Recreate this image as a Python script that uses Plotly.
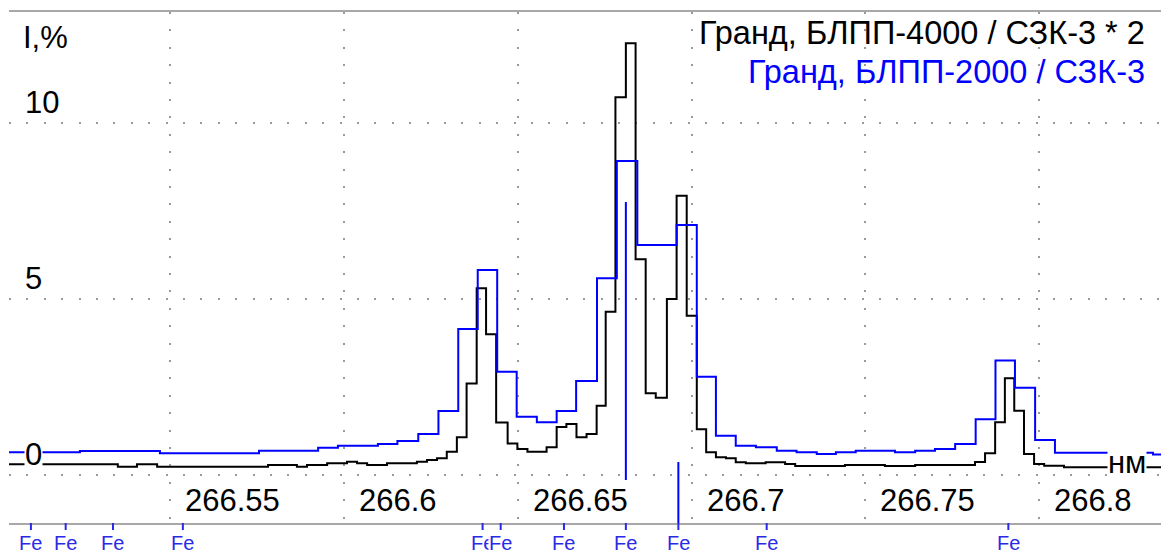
import plotly.graph_objects as go

# ---------------- data ----------------
# Black series: "Гранд, БЛПП-4000 / СЗК-3 * 2" (bin left edges in nm, last entry = right end)
black_edges = [266.5037, 266.5350, 266.5405, 266.5463, 266.5782, 266.5865, 266.5894, 266.5952,
               266.6009, 266.6038, 266.6067, 266.6124, 266.6210, 266.6239, 266.6268, 266.6296,
               266.6325, 266.6353, 266.6382, 266.6409, 266.6438, 266.6471, 266.6499, 266.6528,
               266.6583, 266.6612, 266.6640, 266.6669, 266.6698, 266.6727, 266.6753, 266.6781,
               266.6811, 266.6839, 266.6868, 266.6897, 266.6929, 266.6957, 266.6986, 266.7015,
               266.7042, 266.7070, 266.7099, 266.7127, 266.7156, 266.7213, 266.7269, 266.7298,
               266.7441, 266.7556, 266.7643, 266.7815, 266.7844, 266.7873, 266.7901, 266.7928,
               266.7956, 266.7985, 266.8014, 266.8071, 266.8350]
black_vals = [0.304, 0.236, 0.304, 0.236, 0.284, 0.236, 0.284, 0.332,
              0.378, 0.332, 0.284, 0.332, 0.378, 0.426, 0.474, 0.662,
              1.071, 2.599, 5.304, 3.997, 1.491, 0.895, 0.739, 0.662,
              0.787, 1.364, 1.449, 1.071, 1.165, 1.969, 4.639, 10.730,
              12.264, 6.128, 2.321, 2.196, 5.000, 7.935, 4.526, 1.298,
              0.645, 0.503, 0.474, 0.361, 0.332, 0.361, 0.313, 0.256,
              0.284, 0.256, 0.284, 0.369, 0.616, 1.497, 2.747, 1.827,
              0.597, 0.313, 0.264, 0.219]

# Blue series: "Гранд, БЛПП-2000 / СЗК-3"
blue_edges = [266.5037, 266.5241, 266.5471, 266.5756, 266.5926, 266.5983, 266.6098, 266.6154,
              266.6214, 266.6272, 266.6329, 266.6385, 266.6441, 266.6497, 266.6555, 266.6612,
              266.6668, 266.6728, 266.6785, 266.6844, 266.6957, 266.7015, 266.7070, 266.7127,
              266.7185, 266.7245, 266.7302, 266.7360, 266.7415, 266.7472, 266.7585, 266.7643,
              266.7700, 266.7758, 266.7817, 266.7874, 266.7930, 266.7988, 266.8045, 266.8327,
              266.8350]
blue_vals = [0.645, 0.682, 0.616, 0.690, 0.776, 0.832, 0.881, 0.966,
             1.165, 1.818, 4.148, 5.824, 2.935, 1.656, 1.497, 1.818,
             2.670, 5.588, 8.920, 6.534, 7.102, 2.793, 1.116, 0.832,
             0.787, 0.690, 0.645, 0.597, 0.645, 0.690, 0.645, 0.690,
             0.739, 0.881, 1.582, 3.253, 2.480, 0.994, 0.634, 0.582]

# Fe line positions (nm)
fe_lines = [266.5100, 266.5200, 266.5336, 266.5537, 266.6399, 266.6451,
            266.6633, 266.6811, 266.6962, 266.7216, 266.7911]
# Fe marker segments drawn inside the plot: (wavelength, top, bottom)
fe_marks_x = [266.6811, 266.6962]
fe_marks_top = [7.756, 0.369]
fe_marks_bottom = [-0.142, -1.37]

x_ticks = [266.55, 266.6, 266.65, 266.7, 266.75, 266.8]
x_tick_text = ["266.55", "266.6", "266.65", "266.7", "266.75", "266.8"]
y_ticks = [0, 5, 10]
y_tick_text = ["0", "5", "10"]

legend_black = "Гранд, БЛПП-4000 / СЗК-3 * 2"
legend_blue = "Гранд, БЛПП-2000 / СЗК-3"
y_title = "I,%"
x_unit = "нм"

x_range = [266.5037, 266.8350]
y_range = [-1.3636, 13.1534]

# ---------------- figure ----------------
FONT = "Liberation Sans, Arial, sans-serif"
BLUE = "#0000ff"
FE_BLUE = "#2a2ae6"
W, H = 1161, 553
ML, MR, MT, MB = 9, 0, 12, 30
PW, PH = W - ML - MR, H - MT - MB

fig = go.Figure()

fig.add_trace(go.Scatter(x=black_edges, y=black_vals + [black_vals[-1]], mode="lines",
                         line=dict(color="#000000", width=2, shape="hv"),
                         showlegend=False, hoverinfo="skip"))
fig.add_trace(go.Scatter(x=blue_edges, y=blue_vals + [blue_vals[-1]], mode="lines",
                         line=dict(color=BLUE, width=2, shape="hv"),
                         showlegend=False, hoverinfo="skip"))
for xm, yt, yb in zip(fe_marks_x, fe_marks_top, fe_marks_bottom):
    fig.add_trace(go.Scatter(x=[xm, xm], y=[yt, yb], mode="lines",
                             line=dict(color=BLUE, width=2),
                             showlegend=False, hoverinfo="skip"))

shapes = []
annotations = []
for fx in fe_lines:
    shapes.append(dict(type="line", xref="x", yref="paper", x0=fx, x1=fx,
                       y0=0, y1=-7 / PH, line=dict(color=FE_BLUE, width=2)))
    annotations.append(dict(x=fx, xref="x", y=-20 / PH, yref="paper", text="Fe",
                            showarrow=False, xanchor="center", yanchor="middle",
                            font=dict(family=FONT, size=20, color=FE_BLUE),
                            bgcolor="white", borderpad=0))

for v, t in zip(x_ticks, x_tick_text):
    annotations.append(dict(x=v, xref="x", y=23 / PH, yref="paper", text=t,
                            showarrow=False, xanchor="left", yanchor="middle", xshift=13,
                            font=dict(family=FONT, size=31, color="black")))
for v, t in zip(y_ticks, y_tick_text):
    annotations.append(dict(x=(24 - ML) / PW, xref="paper", y=v, yref="y", text=t,
                            showarrow=False, xanchor="left", yanchor="middle", yshift=21,
                            font=dict(family=FONT, size=31, color="black"),
                            bgcolor="white" if v == 0 else None, borderpad=0))

annotations.append(dict(x=(21 - ML) / PW, xref="paper", y=(523 - 37) / PH, yref="paper",
                        text=y_title, showarrow=False, xanchor="left", yanchor="middle",
                        font=dict(family=FONT, size=31, color="black")))
annotations.append(dict(x=(1107 - ML) / PW, xref="paper", y=(523 - 462) / PH, yref="paper",
                        text=x_unit, showarrow=False, xanchor="left", yanchor="middle",
                        font=dict(family=FONT, size=31, color="black"),
                        bgcolor="white", borderpad=0))
annotations.append(dict(x=(1147 - ML) / PW, xref="paper", y=(523 - 33) / PH, yref="paper",
                        text=legend_black, showarrow=False, xanchor="right", yanchor="middle",
                        font=dict(family=FONT, size=32.5, color="black")))
annotations.append(dict(x=(1147 - ML) / PW, xref="paper", y=(523 - 72) / PH, yref="paper",
                        text=legend_blue, showarrow=False, xanchor="right", yanchor="middle",
                        font=dict(family=FONT, size=32.5, color=BLUE)))

fig.update_layout(
    width=W, height=H,
    margin=dict(l=ML, r=MR, t=MT, b=MB, pad=0),
    paper_bgcolor="white", plot_bgcolor="white",
    shapes=shapes, annotations=annotations,
    xaxis=dict(range=x_range, tickvals=x_ticks, showticklabels=False, ticks="",
               showgrid=True, gridcolor="#9a9a9a", gridwidth=1.5, griddash="2px,15.4px",
               zeroline=False, showline=True, mirror=True, linecolor="#a8a8a8", linewidth=2),
    yaxis=dict(range=y_range, tickvals=y_ticks, showticklabels=False, ticks="",
               showgrid=True, gridcolor="#9a9a9a", gridwidth=1.5, griddash="2px,15.4px",
               zeroline=False, showline=False),
    showlegend=False,
)

fig.write_html("out.html")
